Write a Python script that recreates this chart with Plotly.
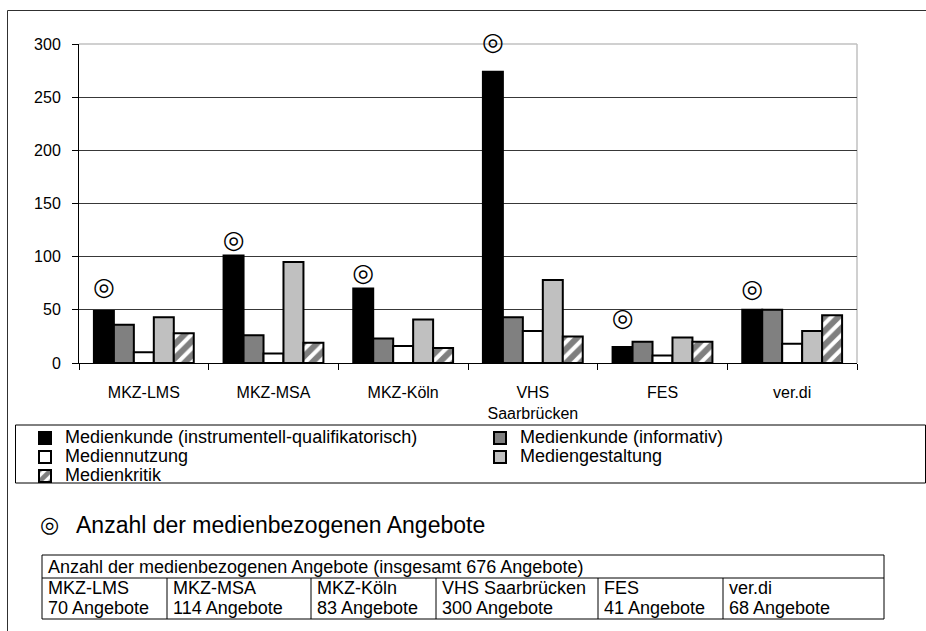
import plotly.graph_objects as go

# ---------------- data ----------------
categories = ["MKZ-LMS", "MKZ-MSA", "MKZ-Köln", "VHS<br>Saarbrücken", "FES", "ver.di"]
table_names = ["MKZ-LMS", "MKZ-MSA", "MKZ-Köln", "VHS Saarbrücken", "FES", "ver.di"]
totals = [70, 114, 83, 300, 41, 68]

series_names = [
    "Medienkunde (instrumentell-qualifikatorisch)",
    "Medienkunde (informativ)",
    "Mediennutzung",
    "Mediengestaltung",
    "Medienkritik",
]
medienkunde_instr = [49, 101, 70, 274, 15, 50]
medienkunde_info = [36, 26, 23, 43, 20, 50]
mediennutzung = [10, 9, 16, 30, 7, 18]
mediengestaltung = [43, 95, 41, 78, 24, 30]
medienkritik = [28, 19, 14, 25, 20, 45]
series_values = [medienkunde_instr, medienkunde_info, mediennutzung, mediengestaltung, medienkritik]

y_ticks = [0, 50, 100, 150, 200, 250, 300]

# ---------------- layout geometry ----------------
W, H = 926, 631
L, R, T, B = 79, 857, 44, 363
PW, PH = R - L, B - T


def px(x):
    return (x - L) / PW


def py(y):
    return (B - y) / PH


FONT = "Liberation Sans, Arial, sans-serif"
BARGAP = 0.23

fills = ["#000000", "#808080", "#ffffff", "#c0c0c0", "#ffffff"]
legend_of = ["legend", "legend2", "legend", "legend2", "legend"]

fig = go.Figure()
for name, vals, col, lg, i in zip(series_names, series_values, fills, legend_of, range(5)):
    marker = dict(color=col, line=dict(color="black", width=2))
    if i == 4:
        marker["pattern"] = dict(shape="/", fgcolor="black", bgcolor="white", size=10, solidity=0.6)
    fig.add_trace(go.Bar(
        x=categories, y=vals,
        name="<span style='font-size:18px'>" + name + "</span>",
        marker=marker, legend=lg,
    ))

# total-count markers above the first bar of each group
first_bar_offset = -(1 - BARGAP) / 2 + (1 - BARGAP) / 10
fig.add_trace(go.Scatter(
    x=[i + first_bar_offset for i in range(len(categories))],
    y=totals,
    mode="text",
    text=["◎"] * len(totals),
    textposition="middle center",
    textfont=dict(size=25, color="black", family="DejaVu Sans"),
    xaxis="x2",
    cliponaxis=False,
    showlegend=False,
    hoverinfo="skip",
))

shapes = []
# outer frame (left + top)
shapes.append(dict(type="line", xref="paper", yref="paper", x0=px(7.5), x1=px(7.5), y0=py(10.5), y1=py(640),
                   line=dict(color="#303030", width=1)))
shapes.append(dict(type="line", xref="paper", yref="paper", x0=px(7.5), x1=px(930), y0=py(10.5), y1=py(10.5),
                   line=dict(color="#303030", width=1)))
# plot area border top/right (light gray)
shapes.append(dict(type="line", xref="paper", yref="paper", x0=0, x1=1, y0=1, y1=1,
                   line=dict(color="#c0c0c0", width=1.5), layer="between"))
shapes.append(dict(type="line", xref="paper", yref="paper", x0=1, x1=1, y0=0, y1=1,
                   line=dict(color="#c0c0c0", width=1.5), layer="between"))
# legend box
shapes.append(dict(type="rect", xref="paper", yref="paper", x0=px(15.5), x1=px(925.5), y0=py(425), y1=py(483),
                   line=dict(color="black", width=1), fillcolor="rgba(0,0,0,0)"))

# table
tx0, tx1 = 42, 884
ty0, ty_mid, ty1 = 555, 578, 619
col_edges = [42, 167, 311, 436, 598, 723, 884]
shapes.append(dict(type="rect", xref="paper", yref="paper", x0=px(tx0), x1=px(tx1), y0=py(ty0), y1=py(ty1),
                   line=dict(color="black", width=1)))
shapes.append(dict(type="line", xref="paper", yref="paper", x0=px(tx0), x1=px(tx1), y0=py(ty_mid), y1=py(ty_mid),
                   line=dict(color="black", width=1)))
for xe in col_edges[1:-1]:
    shapes.append(dict(type="line", xref="paper", yref="paper", x0=px(xe), x1=px(xe), y0=py(ty_mid), y1=py(ty1),
                       line=dict(color="black", width=1)))

annotations = []
annotations.append(dict(xref="paper", yref="paper", x=px(49), y=py(524), text="◎", showarrow=False,
                        xanchor="center", yanchor="middle", font=dict(size=22, family="DejaVu Sans", color="black")))
annotations.append(dict(xref="paper", yref="paper", x=px(74), y=py(525),
                        text="Anzahl der medienbezogenen Angebote", showarrow=False,
                        xanchor="left", yanchor="middle", font=dict(size=23, family=FONT, color="black")))
annotations.append(dict(xref="paper", yref="paper", x=px(46), y=py(567),
                        text="Anzahl der medienbezogenen Angebote (insgesamt %d Angebote)" % sum(totals),
                        showarrow=False, xanchor="left", yanchor="middle",
                        font=dict(size=18, family=FONT, color="black")))
for i, (nm, tot) in enumerate(zip(table_names, totals)):
    annotations.append(dict(xref="paper", yref="paper", x=px(col_edges[i] + 4), y=py(588),
                            text=nm, showarrow=False, align="left",
                            xanchor="left", yanchor="middle",
                            font=dict(size=18, family=FONT, color="black")))
    annotations.append(dict(xref="paper", yref="paper", x=px(col_edges[i] + 4), y=py(608),
                            text="%d Angebote" % tot, showarrow=False, align="left",
                            xanchor="left", yanchor="middle",
                            font=dict(size=18, family=FONT, color="black")))

fig.update_layout(
    width=W, height=H,
    margin=dict(l=L, r=W - R, t=T, b=H - B, pad=0),
    paper_bgcolor="white", plot_bgcolor="white",
    font=dict(family=FONT, color="black", size=16),
    barmode="group", bargap=BARGAP, bargroupgap=0,
    xaxis=dict(
        type="category", showline=True, linecolor="black", linewidth=1,
        ticks="outside", tickson="boundaries", ticklen=6, tickcolor="black",
        showgrid=False, tickfont=dict(size=16, family=FONT), ticklabelstandoff=15,
        range=[-0.5, 5.5],
    ),
    xaxis2=dict(overlaying="x", range=[-0.5, 5.5], visible=False),
    yaxis=dict(
        range=[0, 300], tickvals=y_ticks, showline=True, linecolor="black", linewidth=1,
        ticks="outside", ticklen=6, tickcolor="black", showgrid=True, gridcolor="#383838", gridwidth=1,
        zeroline=False, tickfont=dict(size=16, family=FONT), ticklabelstandoff=8,
    ),
    legend=dict(orientation="v", x=px(25), xanchor="left", y=py(423.5), yanchor="top",
                bgcolor="rgba(0,0,0,0)", borderwidth=0, font=dict(size=12, family=FONT),
                itemclick=False),
    legend2=dict(orientation="v", x=px(480), xanchor="left", y=py(423.5), yanchor="top",
                 bgcolor="rgba(0,0,0,0)", borderwidth=0, font=dict(size=12, family=FONT),
                 itemclick=False),
    shapes=shapes,
    annotations=annotations,
)

fig.write_html("out.html", config={"displayModeBar": False},
               post_script="document.body.style.margin='0';")
